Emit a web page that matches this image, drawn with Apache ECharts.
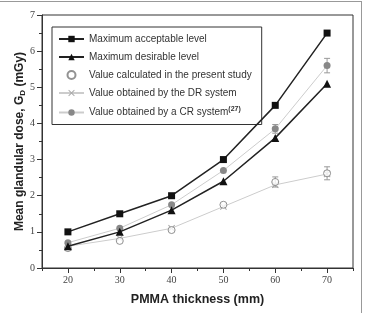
<!DOCTYPE html>
<html>
<head>
<meta charset="utf-8">
<script src="https://cdn.jsdelivr.net/npm/echarts@6/dist/echarts.min.js"></script>
<style>
  html, body { margin: 0; padding: 0; background: #fff; }
  #wrap { position: relative; width: 368px; height: 313px; overflow: hidden; }
  #frame { position: absolute; left: -2px; top: 1px; width: 364px; height: 330px; border: 1px solid #999; box-sizing: border-box; }
  #chart { position: absolute; left: 0; top: 0; width: 368px; height: 313px; }
</style>
</head>
<body>
<div id="wrap">
  <div id="frame"></div>
  <div id="chart"></div>
</div>
<script>
// PMMA thickness (mm)
const thickness = [20, 30, 40, 50, 60, 70];
const majorTicks = [20, 30, 40, 50, 60, 70];
const minorTicks = [15, 25, 35, 45, 55, 65, 75];

// mean glandular dose (mGy)
const acceptable = [1.0, 1.5, 2.0, 3.0, 4.5, 6.5];
const desirable = [0.6, 1.0, 1.6, 2.4, 3.6, 5.1];
const calculated = [0.55, 0.75, 1.05, 1.75, 2.38, 2.62];
const drSystem = [0.6, 0.82, 1.1, 1.7, 2.3, 2.6];
const crSystem = [0.7, 1.1, 1.75, 2.7, 3.85, 5.6];

// error bars: [thickness, value, half-width]
const calcErr = [[60, 2.38, 0.14], [70, 2.62, 0.18]];
const crErr = [[60, 3.85, 0.12], [70, 5.6, 0.2]];

const names = [
  "Maximum acceptable level",
  "Maximum desirable level",
  "Value calculated in the present study",
  "Value obtained by the DR system",
  "Value obtained by a CR system"
];

function pairs(vals) {
  return thickness.map((x, i) => [x, vals[i]]);
}

function errorBar(color) {
  return function (params, api) {
    const x = api.value(0), y = api.value(1), e = api.value(2);
    const top = api.coord([x, y + e]);
    const bot = api.coord([x, y - e]);
    const style = { stroke: color, lineWidth: 1 };
    return {
      type: "group",
      children: [
        { type: "line", shape: { x1: top[0], y1: top[1], x2: bot[0], y2: bot[1] }, style: style },
        { type: "line", shape: { x1: top[0] - 3, y1: top[1], x2: top[0] + 3, y2: top[1] }, style: style },
        { type: "line", shape: { x1: bot[0] - 3, y1: bot[1], x2: bot[0] + 3, y2: bot[1] }, style: style }
      ]
    };
  };
}

const crossSymbol = "path://M0,1 L1,0 L5,4 L9,0 L10,1 L6,5 L10,9 L9,10 L5,6 L1,10 L0,9 L4,5 Z";

let chart = echarts.init(document.getElementById("chart"));
chart.setOption({
  animation: false,
  grid: { left: 42, right: 15, top: 15, bottom: 45, show: true, borderColor: "#333", borderWidth: 1 },
  legend: {
    orient: "vertical",
    left: 52,
    top: 27,
    padding: [7, 10, 7, 6],
    itemGap: 8,
    itemWidth: 25,
    itemHeight: 8,
    borderColor: "#333",
    borderWidth: 1,
    backgroundColor: "#fff",
    textStyle: {
      fontFamily: "Liberation Sans",
      fontSize: 10,
      color: "#333",
      rich: {
        sup: { fontSize: 7, fontWeight: "bold", color: "#333", padding: [0, 0, 6, 0] }
      }
    },
    formatter: function (name) {
      return name === names[4] ? name + "{sup|(27)}" : name;
    },
    data: [
      { name: names[0] },
      { name: names[1] },
      { name: names[2] },
      { name: names[3] },
      { name: names[4] }
    ]
  },
  xAxis: [
    {
      type: "value",
      min: 15,
      max: 75,
      name: "PMMA thickness (mm)",
      nameLocation: "middle",
      nameGap: 25,
      nameMoveOverlap: false,
      nameTextStyle: { fontFamily: "Liberation Sans", fontSize: 12.5, fontWeight: "bold", color: "#222" },
      axisLine: { lineStyle: { color: "#333" } },
      axisTick: { show: true, inside: false, length: 5, customValues: majorTicks, lineStyle: { color: "#333" } },
      axisLabel: { customValues: majorTicks, fontFamily: "Liberation Serif", fontSize: 10, color: "#444", margin: 7 },
      splitLine: { show: false }
    },
    {
      type: "value",
      min: 15,
      max: 75,
      position: "bottom",
      axisLine: { show: false },
      axisTick: { show: true, inside: false, length: 3, customValues: minorTicks, lineStyle: { color: "#333" } },
      axisLabel: { show: false },
      splitLine: { show: false }
    }
  ],
  yAxis: {
    type: "value",
    min: 0,
    max: 7,
    interval: 1,
    name: "Mean glandular dose, G{sub|D} (mGy)",
    nameLocation: "middle",
    nameGap: 15,
    nameMoveOverlap: false,
    nameTextStyle: {
      fontFamily: "Liberation Sans",
      fontSize: 12,
      fontWeight: "bold",
      color: "#222",
      rich: {
        sub: { fontFamily: "Liberation Sans", fontSize: 8, fontWeight: "bold", color: "#222", padding: [6, 0, 0, 0] }
      }
    },
    axisLine: { show: true, lineStyle: { color: "#333" } },
    axisTick: { show: true, inside: false, length: 5, lineStyle: { color: "#333" } },
    minorTick: { show: true, splitNumber: 2, length: 3, lineStyle: { color: "#333" } },
    axisLabel: { fontFamily: "Liberation Serif", fontSize: 10, color: "#444", margin: 7 },
    splitLine: { show: false }
  },
  series: [
    {
      name: names[3],
      type: "line",
      data: pairs(drSystem),
      symbol: crossSymbol,
      symbolSize: 7,
      itemStyle: { color: "#aaa" },
      lineStyle: { color: "#ccc", width: 1 },
      z: 2
    },
    {
      name: names[4],
      type: "line",
      data: pairs(crSystem),
      symbol: "circle",
      symbolSize: 7,
      itemStyle: { color: "#888" },
      lineStyle: { color: "#ccc", width: 1 },
      z: 3
    },
    {
      name: names[2],
      type: "scatter",
      data: pairs(calculated),
      symbol: "circle",
      symbolSize: 7,
      itemStyle: { color: "#fff", borderColor: "#777", borderWidth: 1 },
      z: 4
    },
    {
      name: names[1],
      type: "line",
      data: pairs(desirable),
      symbol: "triangle",
      symbolSize: 8,
      itemStyle: { color: "#111" },
      lineStyle: { color: "#222", width: 1.5 },
      z: 5
    },
    {
      name: names[0],
      type: "line",
      data: pairs(acceptable),
      symbol: "rect",
      symbolSize: 7,
      itemStyle: { color: "#111" },
      lineStyle: { color: "#222", width: 1.5 },
      z: 5
    },
    {
      name: "calcErr",
      type: "custom",
      data: calcErr,
      renderItem: errorBar("#999"),
      z: 3
    },
    {
      name: "crErr",
      type: "custom",
      data: crErr,
      renderItem: errorBar("#999"),
      z: 3
    }
  ]
});
</script>
</body>
</html>
